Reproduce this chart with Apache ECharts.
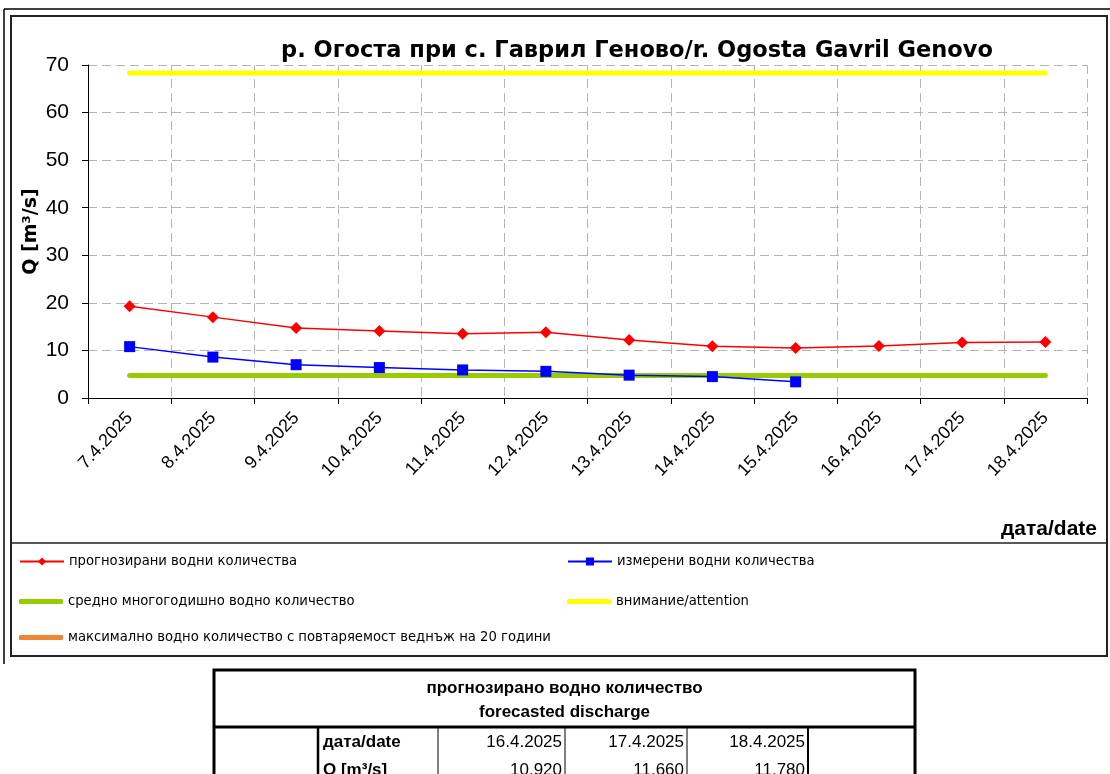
<!DOCTYPE html>
<html>
<head>
<meta charset="utf-8">
<script src="https://cdn.jsdelivr.net/npm/echarts@6/dist/echarts.min.js"></script>
<style>
html,body{margin:0;padding:0;background:#fff;}
#chart{width:1110px;height:774px;}
</style>
</head>
<body>
<div id="chart"></div>
<script>
const titleText = 'р. Огоста при с. Гаврил Геново/r. Ogosta Gavril Genovo';
const categories = ['7.4.2025','8.4.2025','9.4.2025','10.4.2025','11.4.2025','12.4.2025','13.4.2025','14.4.2025','15.4.2025','16.4.2025','17.4.2025','18.4.2025'];
const forecast = [19.3, 17.0, 14.7, 14.1, 13.5, 13.8, 12.2, 10.9, 10.5, 10.92, 11.66, 11.78];
const measured = [10.8, 8.6, 7.0, 6.4, 5.9, 5.6, 4.8, 4.5, 3.4, null, null, null];
const average  = [4.75, 4.75, 4.75, 4.75, 4.75, 4.75, 4.75, 4.75, 4.75, 4.75, 4.75, 4.75];
const attention= [68.3, 68.3, 68.3, 68.3, 68.3, 68.3, 68.3, 68.3, 68.3, 68.3, 68.3, 68.3];
const max20    = [];
const yTicks = [0, 10, 20, 30, 40, 50, 60, 70];
const seriesNames = ['прогнозирани водни количества','измерени водни количества','средно многогодишно водно количество','внимание/attention','максимално водно количество с повтаряемост веднъж на 20 години'];
const tableTitle = ['прогнозирано водно количество','forecasted discharge'];
const tableDates = ['16.4.2025','17.4.2025','18.4.2025'];
const tableValues = [10.920, 11.660, 11.780];

const FONT = '"Liberation Sans", Arial, sans-serif';
const WIDE = '"DejaVu Sans", sans-serif';
const chart = echarts.init(document.getElementById('chart'), null, {renderer:'canvas'});

function legendAt(name, left, top, bar){
  return {
    data:[bar ? {name:name, icon:'roundRect'} : name], left:left, top:top, orient:'horizontal',
    itemWidth:44, itemHeight: bar ? 5 : 10, padding:0, selectedMode:false,
    textStyle:{fontFamily:WIDE, fontSize:13.2, color:'#000'}
  };
}

// table geometry
const tX = [214, 318, 438, 565, 687, 808, 915];
const tTop = 670, tHead = 727;
const g = [];
// chart frame
g.push({type:'line', shape:{x1:4,y1:9,x2:1110,y2:9}, style:{stroke:'#000', lineWidth:1.5}, silent:true});
g.push({type:'line', shape:{x1:4,y1:9,x2:4,y2:664}, style:{stroke:'#000', lineWidth:1.5}, silent:true});
g.push({type:'rect', shape:{x:11,y:16,width:1096,height:640}, style:{fill:'none', stroke:'#222', lineWidth:2}, silent:true});
g.push({type:'line', shape:{x1:11,y1:543,x2:1107,y2:543}, style:{stroke:'#222', lineWidth:1.5}, silent:true});
// x axis name
g.push({type:'text', style:{text:'дата/date', x:1097, y:529, textAlign:'right', textVerticalAlign:'middle', font:'bold 21px ' + FONT, fill:'#000'}});
// table
g.push({type:'rect', shape:{x:tX[0], y:tTop, width:tX[6]-tX[0], height:140}, style:{fill:'#fff', stroke:'#000', lineWidth:3}});
g.push({type:'line', shape:{x1:tX[0], y1:tHead, x2:tX[6], y2:tHead}, style:{stroke:'#000', lineWidth:3}});
g.push({type:'text', style:{text:tableTitle[0], x:(tX[0]+tX[6])/2, y:688, textAlign:'center', textVerticalAlign:'middle', font:'bold 17px ' + FONT, fill:'#000'}});
g.push({type:'text', style:{text:tableTitle[1], x:(tX[0]+tX[6])/2, y:712, textAlign:'center', textVerticalAlign:'middle', font:'bold 17px ' + FONT, fill:'#000'}});
g.push({type:'line', shape:{x1:tX[1], y1:tHead, x2:tX[1], y2:800}, style:{stroke:'#000', lineWidth:2.5}});
g.push({type:'line', shape:{x1:tX[5], y1:tHead, x2:tX[5], y2:800}, style:{stroke:'#000', lineWidth:2}});
for (let i=2;i<5;i++) g.push({type:'line', shape:{x1:tX[i], y1:tHead, x2:tX[i], y2:800}, style:{stroke:'#000', lineWidth:1}});
g.push({type:'text', style:{text:'дата/date', x:tX[1]+5, y:742, textAlign:'left', textVerticalAlign:'middle', font:'bold 17px ' + FONT, fill:'#000'}});
g.push({type:'text', style:{text:'Q [m³/s]', x:tX[1]+5, y:770, textAlign:'left', textVerticalAlign:'middle', font:'bold 17px ' + FONT, fill:'#000'}});
for (let i=0;i<3;i++){
  g.push({type:'text', style:{text:tableDates[i], x:tX[i+3]-3, y:742, textAlign:'right', textVerticalAlign:'middle', font:'17px ' + FONT, fill:'#000'}});
  g.push({type:'text', style:{text:tableValues[i].toFixed(3), x:tX[i+3]-3, y:770, textAlign:'right', textVerticalAlign:'middle', font:'17px ' + FONT, fill:'#000'}});
}

const option = {
  backgroundColor:'#fff',
  animation:false,
  title:{text:titleText, left:632, top:35, textAlign:'center',
    textStyle:{fontFamily:WIDE, fontSize:22.5, fontWeight:'bold', color:'#000'}},
  legend:[
    legendAt(seriesNames[0], 19, 555, false),
    legendAt(seriesNames[1], 567, 555, false),
    legendAt(seriesNames[2], 19, 595, true),
    legendAt(seriesNames[3], 567, 595, true),
    legendAt(seriesNames[4], 19, 631, true)
  ],
  grid:{left:88, right:23, top:65, bottom:376, containLabel:false},
  xAxis:{
    type:'category', data:categories, boundaryGap:true,
    axisLine:{lineStyle:{color:'#000', width:1}},
    axisTick:{show:true, length:6, lineStyle:{color:'#000'}},
    axisLabel:{rotate:47, margin:17, fontFamily:FONT, fontSize:18, color:'#000', interval:0},
    splitLine:{show:true, lineStyle:{color:'#b4b4b4', type:[9,5], width:1}}
  },
  yAxis:{
    type:'value', min:0, max:70, interval:10,
    name:'Q [m³/s]', nameLocation:'middle', nameGap:47, nameRotate:90, nameMoveOverlap:false,
    nameTextStyle:{fontFamily:WIDE, fontSize:19, fontWeight:'bold', color:'#000'},
    axisLine:{show:true, lineStyle:{color:'#000', width:1}},
    axisTick:{show:true, length:6, lineStyle:{color:'#000'}},
    axisLabel:{fontFamily:FONT, fontSize:21, color:'#000', margin:19,
      formatter:(v)=> yTicks.includes(v) ? String(v) : ''},
    splitLine:{show:true, lineStyle:{color:'#b4b4b4', type:[9,5], width:1}}
  },
  series:[
    {name:seriesNames[3], type:'line', data:attention, symbol:'none', lineStyle:{color:'#ffff00', width:5, cap:'round'}, itemStyle:{color:'#ffff00'}, z:1},
    {name:seriesNames[2], type:'line', data:average, symbol:'none', lineStyle:{color:'#99cc00', width:5, cap:'round'}, itemStyle:{color:'#99cc00'}, z:1},
    {name:seriesNames[4], type:'line', data:max20, symbol:'none', lineStyle:{color:'#f08536', width:5}, itemStyle:{color:'#f08536'}, z:1},
    {name:seriesNames[0], type:'line', data:forecast, symbol:'diamond', symbolSize:12, lineStyle:{color:'#ff0000', width:1.5}, itemStyle:{color:'#ff0000'}, z:3},
    {name:seriesNames[1], type:'line', data:measured, symbol:'rect', symbolSize:11, lineStyle:{color:'#0000ff', width:1.5}, itemStyle:{color:'#0000ff'}, z:2}
  ],
  graphic: g
};
chart.setOption(option);
</script>
</body>
</html>
